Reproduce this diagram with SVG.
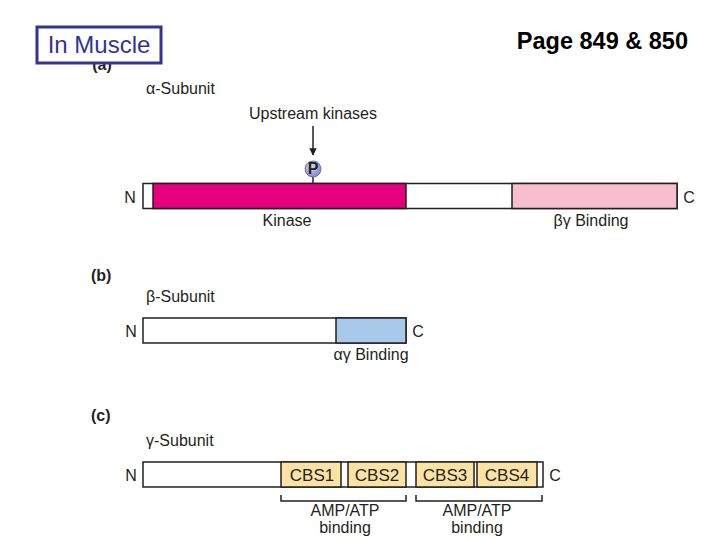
<svg xmlns="http://www.w3.org/2000/svg" width="720" height="540" viewBox="0 0 720 540">
<defs>
<style>
text{font-family:"Liberation Sans",Arial,sans-serif;fill:#231f20;font-size:16px}
.b{font-weight:bold}
.box{stroke:#231f20;stroke-width:1.5}
.lbl{text-anchor:middle}
.cbs{font-size:17px}
.ln{stroke:#231f20;stroke-width:1.5;fill:none}
</style>
<radialGradient id="pg" cx="0.4" cy="0.35" r="0.7">
<stop offset="0" stop-color="#d8d8f0"/>
<stop offset="1" stop-color="#8080c0"/>
</radialGradient>
<marker id="ah" viewBox="0 0 10 10" refX="9" refY="5" markerWidth="5" markerHeight="5" orient="auto">
<path d="M0,0 L10,5 L0,10 z" fill="#231f20"/>
</marker>
</defs>
<rect width="720" height="540" fill="#fff"/>
<text x="102" y="70" class="b lbl">(a)</text>
<g id="title-box">
<rect x="37" y="27" width="124" height="36" fill="#fff" stroke="#333399" stroke-width="3"/>
<text x="99" y="53" class="lbl" style="fill:#333399;font-size:24px">In Muscle</text>
</g>
<text x="688" y="49" class="b" text-anchor="end" style="font-size:23.5px;fill:#000">Page 849 &amp; 850</text>

<text x="146" y="94">α-Subunit</text>
<text x="313" y="119" class="lbl">Upstream kinases</text>
<g id="connectors">
<line x1="313" y1="126" x2="313" y2="155" class="ln" marker-end="url(#ah)"/>
<line x1="313" y1="177" x2="313" y2="183" class="ln"/>
<path d="M281,495 V501 H406 V495" class="ln"/>
<path d="M416,495 V501 H542 V495" class="ln"/>
</g>
<g id="phospho">
<circle cx="313" cy="169" r="8" fill="url(#pg)" stroke="#6060a0" stroke-width="0.8"/>
<text x="313" y="174" class="b lbl" font-size="13">P</text>
</g>
<g id="alpha">
<text x="130" y="203" class="lbl">N</text>
<rect x="143" y="183.5" width="534" height="25" fill="#fff" class="box"/>
<rect x="153" y="183.5" width="253" height="25" fill="#e6007e" class="box"/>
<rect x="512" y="183.5" width="165" height="25" fill="#f7bfcd" class="box"/>
<text x="689" y="203" class="lbl">C</text>
<text x="287" y="226" class="lbl">Kinase</text>
<text x="591" y="226" class="lbl">βγ Binding</text>
</g>

<text x="91" y="281" class="b">(b)</text>
<text x="146" y="302">β-Subunit</text>
<g id="beta">
<text x="131" y="337" class="lbl">N</text>
<rect x="143" y="318" width="263" height="25" fill="#fff" class="box"/>
<rect x="336" y="318" width="70" height="25" fill="#a9c9ea" class="box"/>
<text x="418" y="337" class="lbl">C</text>
<text x="371" y="360" class="lbl">αγ Binding</text>
</g>

<text x="91" y="421" class="b">(c)</text>
<text x="146" y="446">γ-Subunit</text>
<g id="gamma">
<text x="131" y="481" class="lbl">N</text>
<rect x="143" y="462" width="400" height="25" fill="#fff" class="box"/>
<rect x="281" y="462" width="60" height="25" fill="#fde3a3" class="box"/>
<rect x="348" y="462" width="58" height="25" fill="#fde3a3" class="box"/>
<rect x="416" y="462" width="58" height="25" fill="#fde3a3" class="box"/>
<rect x="477" y="462" width="60" height="25" fill="#fde3a3" class="box"/>
<text x="312" y="481" class="lbl cbs">CBS1</text>
<text x="377" y="481" class="lbl cbs">CBS2</text>
<text x="445" y="481" class="lbl cbs">CBS3</text>
<text x="507" y="481" class="lbl cbs">CBS4</text>
<text x="555" y="481" class="lbl">C</text>
<text x="345" y="516" class="lbl">AMP/ATP</text>
<text x="345" y="533" class="lbl">binding</text>
<text x="477" y="516" class="lbl">AMP/ATP</text>
<text x="477" y="533" class="lbl">binding</text>
</g>
</svg>
